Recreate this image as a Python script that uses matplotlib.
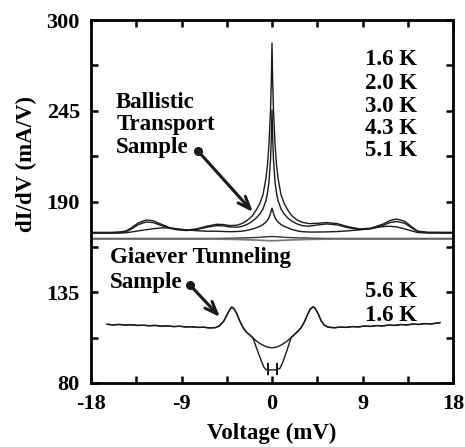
import matplotlib
matplotlib.use("Agg")
import matplotlib.pyplot as plt
from matplotlib.ticker import FuncFormatter

plt.rcParams['font.family'] = ['Liberation Serif', 'DejaVu Serif']
plt.rcParams['font.weight'] = 'bold'
plt.rcParams['axes.unicode_minus'] = False

# ---------------- data ----------------
# Ballistic transport sample (shared voltage grid, mV)
v_ball = [-18, -16, -15, -14.5, -14, -13.3, -12.5, -11.8, -11, -10.2, -9.5, -8.5,
          -7.5, -6.5, -5.5, -4.8, -4.2, -3.5, -3.0, -2.5, -2.0, -1.6, -1.2, -0.9,
          -0.6, -0.45, -0.3, -0.15, -0.07, 0, 0.07, 0.15, 0.3, 0.45, 0.6, 0.9,
          1.2, 1.6, 2.0, 2.5, 3.0, 3.7, 4.5, 5.5, 6.5, 7.5, 8.7, 9.8, 11, 11.7,
          12.4, 13.2, 14, 14.5, 15.5, 18]
g_ball_16K = [171.3, 171.3, 171.6, 172.2, 174.0, 177.0, 178.8, 178.3, 176.2, 174.2,
              173.2, 172.7, 173.4, 175.0, 176.2, 176.0, 175.4, 175.6, 176.6, 178.4,
              181.0, 184.5, 189.0, 194.0, 204.0, 212.0, 225.0, 245.0, 262.0, 286.0,
              262.0, 245.0, 225.0, 212.0, 204.0, 194.0, 189.0, 184.5, 181.2, 178.8,
              177.4, 176.6, 176.8, 177.2, 176.6, 174.8, 173.4, 173.8, 176.2, 178.4,
              179.4, 178.0, 174.2, 172.0, 171.4, 171.3]
g_ball_20K = [171.0, 171.0, 171.3, 171.8, 173.2, 176.0, 177.6, 177.2, 175.4, 173.8,
              172.9, 172.4, 173.0, 174.4, 175.4, 175.2, 174.6, 174.4, 174.9, 176.0,
              177.8, 179.8, 182.5, 185.5, 190.5, 195.0, 202.0, 215.0, 228.0, 245.5,
              228.0, 215.0, 202.0, 195.0, 190.5, 185.5, 182.5, 179.8, 178.0, 176.4,
              175.4, 175.0, 175.8, 176.4, 175.8, 174.2, 173.0, 173.4, 175.4, 177.2,
              177.9, 176.8, 173.6, 171.8, 171.1, 171.0]
g_ball_30K = [170.8, 170.8, 170.9, 171.1, 171.5, 172.2, 172.9, 173.5, 174.0, 174.0,
              173.5, 172.8, 172.3, 172.0, 172.0, 171.8, 171.7, 171.8, 172.0, 172.5,
              173.2, 174.0, 175.0, 176.0, 177.6, 178.6, 180.2, 182.8, 184.6, 186.0,
              184.6, 182.8, 180.2, 178.6, 177.6, 176.0, 175.0, 174.0, 173.0, 172.2,
              171.7, 171.5, 171.5, 171.6, 171.8, 172.2, 172.8, 173.6, 174.8, 175.0,
              174.6, 173.4, 172.0, 171.2, 170.9, 170.8]
v_flat = [-18, -6, -4.5, -3, -1.5, -0.5, 0, 0.5, 1.5, 3, 4.5, 6, 18]
g_ball_43K = [167.6, 167.6, 167.7, 167.9, 168.2, 168.6, 168.8, 168.6, 168.2, 167.9, 167.7, 167.6, 167.6]
g_ball_51K = [167.2, 167.2, 167.1, 166.9, 166.6, 166.3, 166.2, 166.3, 166.6, 166.9, 167.1, 167.2, 167.2]

# Giaever tunneling sample
v_tun_left = [-16.4, -15.8, -15.2, -14.6, -14.0, -13.4, -12.8, -12.2, -11.6, -11.0,
              -10.4, -9.8, -9.2, -8.6, -8.0, -7.4, -6.8, -6.2, -5.6, -5.2, -4.8,
              -4.5, -4.2, -4.0, -3.8, -3.5, -3.2, -2.9, -2.6, -2.2, -1.9]
g_tun_left = [115.6, 115.2, 115.5, 115.1, 115.3, 114.9, 115.0, 114.7, 114.9, 114.4,
              114.6, 114.2, 114.4, 114.0, 114.1, 113.7, 113.8, 113.4, 113.6, 114.8,
              117.5, 121.0, 124.5, 126.0, 125.2, 122.0, 117.5, 113.8, 111.2, 109.0, 107.4]
v_tun_mid_56K = [-1.5, -1.0, -0.5, 0, 0.5, 1.0, 1.5, 1.9]
g_tun_mid_56K = [105.2, 103.2, 101.8, 101.3, 101.8, 103.3, 105.4, 107.5]
v_tun_mid_16K = [-1.5, -1.1, -0.8, -0.6, -0.42, -0.41, -0.40, -0.39, 0, 0.49, 0.50,
                 0.51, 0.52, 0.8, 1.1, 1.5, 1.9]
g_tun_mid_16K = [100.5, 94.0, 89.5, 88.2, 88.0, 92.0, 85.0, 88.0, 87.9, 88.0, 92.0,
                 85.0, 88.0, 89.0, 93.0, 100.0, 107.5]
v_tun_right = [2.2, 2.6, 2.9, 3.2, 3.5, 3.8, 4.1, 4.3, 4.6, 4.9, 5.2, 5.6, 6.2, 6.8,
               7.4, 8.0, 8.6, 9.2, 9.8, 10.4, 11.0, 11.6, 12.2, 12.8, 13.4, 14.0,
               14.6, 15.2, 15.8, 16.4, 16.7]
g_tun_right = [109.2, 111.5, 113.6, 116.8, 121.0, 124.8, 126.2, 125.2, 121.8, 117.6,
               115.0, 113.8, 113.5, 113.9, 113.7, 114.2, 114.0, 114.5, 114.3, 114.8,
               114.6, 115.1, 114.9, 115.4, 115.2, 115.7, 115.5, 116.0, 115.8, 116.3, 116.6]

temps_ball = ["1.6 K", "2.0 K", "3.0 K", "4.3 K", "5.1 K"]
temps_tun = ["5.6 K", "1.6 K"]
x_ticks = [-18, -9, 0, 9, 18]
y_ticks = [80, 135, 190, 245, 300]

# ---------------- figure ----------------
W, H = 465, 447
fig = plt.figure(figsize=(W / 100, H / 100), dpi=100)
ax = fig.add_axes([91 / W, 1 - 383 / H, 362 / W, 363 / H])

lc = '#1a1a1a'
ax.plot(v_ball, g_ball_16K, color=lc, lw=1.0)
ax.plot(v_ball, g_ball_20K, color=lc, lw=1.0)
ax.plot(v_ball, g_ball_30K, color=lc, lw=1.0)
ax.plot(v_flat, g_ball_43K, color='#333333', lw=1.0)
ax.plot(v_flat, g_ball_51K, color='#777777', lw=1.2)

for vm, gm in [(v_tun_mid_56K, g_tun_mid_56K), (v_tun_mid_16K, g_tun_mid_16K)]:
    v = v_tun_left + vm + v_tun_right
    g = g_tun_left + gm + g_tun_right
    ax.plot(v, g, color=lc, lw=1.0)

ax.set_xlim(-18, 18)
ax.set_ylim(80, 300)
ax.set_xticks(x_ticks)
ax.set_xticks([-13.5, -4.5, 4.5, 13.5], minor=True)
ax.set_yticks(y_ticks)
ax.set_yticks([107.5, 162.5, 217.5, 272.5], minor=True)
ax.xaxis.set_major_formatter(FuncFormatter(lambda x, p: "%d" % round(x)))
ax.yaxis.set_major_formatter(FuncFormatter(lambda x, p: "%d" % round(x)))
ax.tick_params(which='both', direction='in', length=5, width=1.8,
               top=True, right=True, labelsize=16)
ax.tick_params(axis='x', pad=8)
ax.tick_params(axis='y', pad=8)
for s in ax.spines.values():
    s.set_linewidth(2.0)

fs = 16.5
for i, t in enumerate(["Ballistic", "Transport", "Sample"]):
    ax.text(-15.5, [249.7, 236.4, 223.0][i], t, fontsize=fs, fontweight='bold',
            ha='left', va='center')
for t, y in zip(temps_ball, [275.8, 261.8, 247.6, 234.5, 221.2]):
    ax.text(14.4, y, t, fontsize=fs, fontweight='bold', ha='right', va='center')

ax.text(-16.1, 155.8, "Giaever Tunneling", fontsize=fs, fontweight='bold',
        ha='left', va='center')
ax.text(-16.1, 141.2, "Sample", fontsize=fs, fontweight='bold', ha='left', va='center')
for t, y in zip(temps_tun, [135.2, 121.2]):
    ax.text(14.4, y, t, fontsize=fs, fontweight='bold', ha='right', va='center')

for (x0, y0), (x1, y1) in [((-7.36, 220.6), (-1.9, 183.6)),
                           ((-8.16, 139.4), (-5.18, 120.0))]:
    ax.annotate("", xy=(x1, y1), xytext=(x0, y0),
                arrowprops=dict(arrowstyle="->,head_length=0.9,head_width=0.35",
                                color=lc, lw=2.2, shrinkA=0, shrinkB=0))
    ax.plot([x0], [y0], 'o', color=lc, ms=5.5)

ax.set_xlabel("Voltage (mV)", fontsize=16.5, fontweight='bold', labelpad=6)
fig.text(26 / W, 1 - 164 / H, "dI/dV (mA/V)", fontsize=16.5, fontweight='bold',
         rotation=90, ha='center', va='center')

fig.savefig("out.png", dpi=100)
